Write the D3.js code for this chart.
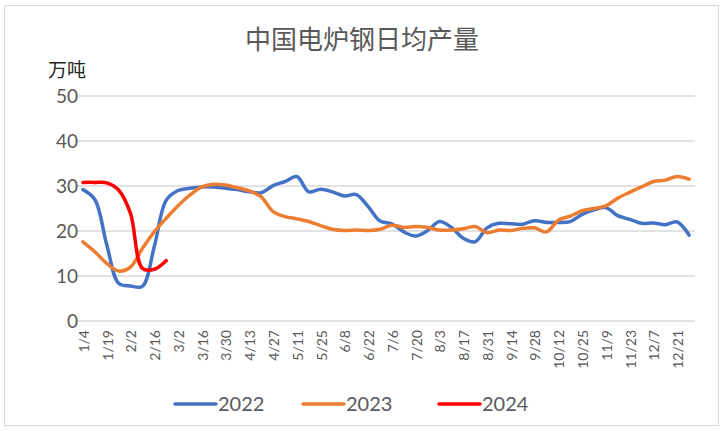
<!DOCTYPE html>
<html>
<head>
<meta charset="utf-8">
<script src="https://cdn.jsdelivr.net/npm/d3@7"></script>
<style>
  body { margin: 0; background: #fff; }
</style>
</head>
<body>
<div id="chart"></div>
<script>
var dates = ["1/4","1/12","1/19","1/26","2/2","2/9","2/16","2/23","3/2","3/9","3/16","3/23","3/30","4/6",
    "4/13","4/20","4/27","5/4","5/11","5/18","5/25","6/1","6/8","6/15","6/22","6/29","7/6","7/13","7/20",
    "7/27","8/3","8/10","8/17","8/24","8/31","9/7","9/14","9/21","9/28","10/5","10/12","10/19","10/25",
    "11/2","11/9","11/16","11/23","11/30","12/7","12/14","12/21","12/28"];

var y2022 = [29.2,27,17,8.4,7.8,7.7,16.5,26.8,29,29.5,29.8,29.8,29.5,29.2,28.7,28.5,30.1,31,32.1,28.7,
    29.3,28.7,27.8,28.1,25.4,22.2,21.6,19.8,18.9,20.1,22.1,20.8,18.4,17.6,20.7,21.7,21.6,21.5,22.3,21.9,
    21.9,22.1,23.7,24.7,25.2,23.4,22.6,21.7,21.8,21.4,22,19.1];
var y2023 = [17.6,15.4,12.8,11.1,12,16.1,19.8,22.8,25.6,28,29.8,30.4,30.2,29.6,28.9,27.6,24.3,23.2,22.7,
    22.1,21.2,20.4,20.1,20.2,20.1,20.4,21.3,20.8,21,20.8,20.2,20.2,20.5,21,19.6,20.2,20.1,20.6,20.7,19.8,
    22.4,23.3,24.5,25,25.6,27.3,28.6,29.8,31,31.3,32.1,31.5];
var y2024 = [30.8,30.8,30.7,29.1,23.9,11.7,11.5,13.4];

var yTicks = [0,10,20,30,40,50];

var seriesList = [
    { name: "2022", values: y2022, color: "#4472C4" },
    { name: "2023", values: y2023, color: "#ED7D31" },
    { name: "2024", values: y2024, color: "#FF0000" }
];

var svgWidth = 723;
var svgHeight = 431;
var margin = { top: 96, right: 28, bottom: 110, left: 77 };
var width = svgWidth - margin.left - margin.right;
var height = svgHeight - margin.top - margin.bottom;

var svg = d3.select("#chart")
    .append("svg")
    .attr("width", svgWidth)
    .attr("height", svgHeight);

svg.append("rect")
    .attr("x", 4.5).attr("y", 5.5)
    .attr("width", 714).attr("height", 420)
    .attr("fill", "#fff")
    .attr("stroke", "#d9d9d9");

var chartGroup = svg.append("g")
    .attr("transform", `translate(${margin.left}, ${margin.top})`);

var xScale = d3.scaleBand()
    .domain(dates)
    .range([0, width]);

var yScale = d3.scaleLinear()
    .domain([0, 50])
    .range([height, 0]);

// gridlines
chartGroup.append("g")
    .selectAll("line")
    .data(yTicks)
    .enter()
    .append("line")
    .attr("x1", 0)
    .attr("x2", width)
    .attr("y1", d => yScale(d))
    .attr("y2", d => yScale(d))
    .attr("stroke", "#d9d9d9")
    .attr("stroke-width", 1.3);

var leftAxis = d3.axisLeft(yScale).tickValues(yTicks).tickSize(0).tickPadding(0);
var yAxisG = chartGroup.append("g")
    .attr("transform", "translate(1, 0)")
    .call(leftAxis);
yAxisG.select(".domain").remove();
yAxisG.selectAll("text")
    .attr("fill", "#595959")
    .attr("font-family", "Lato, 'Noto Sans', sans-serif")
    .attr("font-size", "19px");

var bottomAxis = d3.axisBottom(xScale)
    .tickValues(dates.filter((d, i) => i % 2 === 0))
    .tickSize(0);
var xAxisG = chartGroup.append("g")
    .attr("transform", `translate(0, ${height})`)
    .call(bottomAxis);
xAxisG.select(".domain").remove();
xAxisG.selectAll("text")
    .attr("fill", "#595959")
    .attr("font-family", "Lato, 'Noto Sans', sans-serif")
    .attr("font-size", "14px")
    .attr("text-anchor", "end")
    .attr("transform", "rotate(-90)")
    .attr("x", -9)
    .attr("y", 1)
    .attr("dy", "0.35em")
    .attr("dx", 0);

var line = d3.line()
    .x((d, i) => xScale(dates[i]) + xScale.bandwidth() / 2)
    .y(d => yScale(d))
    .curve(d3.curveCatmullRom.alpha(0.5));

chartGroup.selectAll(".series")
    .data(seriesList)
    .enter()
    .append("path")
    .attr("class", "series")
    .attr("d", d => line(d.values))
    .attr("fill", "none")
    .attr("stroke", d => d.color)
    .attr("stroke-width", 3.5)
    .attr("stroke-linecap", "round")
    .attr("stroke-linejoin", "round");

// title and unit
svg.append("text")
    .attr("x", 362)
    .attr("y", 49)
    .attr("text-anchor", "middle")
    .attr("fill", "#595959")
    .attr("font-family", "'Noto Sans CJK SC', sans-serif")
    .attr("font-size", "26px")
    .text("中国电炉钢日均产量");

svg.append("text")
    .attr("x", 48)
    .attr("y", 77)
    .attr("fill", "#262626")
    .attr("font-family", "'Noto Sans CJK SC', sans-serif")
    .attr("font-size", "19px")
    .text("万吨");

// legend
var legendX = [175, 303, 439];
var legend = svg.append("g")
    .selectAll("g")
    .data(seriesList)
    .enter()
    .append("g")
    .attr("transform", (d, i) => `translate(${legendX[i]}, 404)`);

legend.append("line")
    .attr("x1", 0).attr("x2", 41)
    .attr("y1", 0).attr("y2", 0)
    .attr("stroke", d => d.color)
    .attr("stroke-width", 3.5)
    .attr("stroke-linecap", "round");

legend.append("text")
    .attr("x", 43)
    .attr("y", 0)
    .attr("dy", "0.35em")
    .attr("fill", "#595959")
    .attr("font-family", "Lato, 'Noto Sans', sans-serif")
    .attr("font-size", "20px")
    .text(d => d.name);
</script>
</body>
</html>
